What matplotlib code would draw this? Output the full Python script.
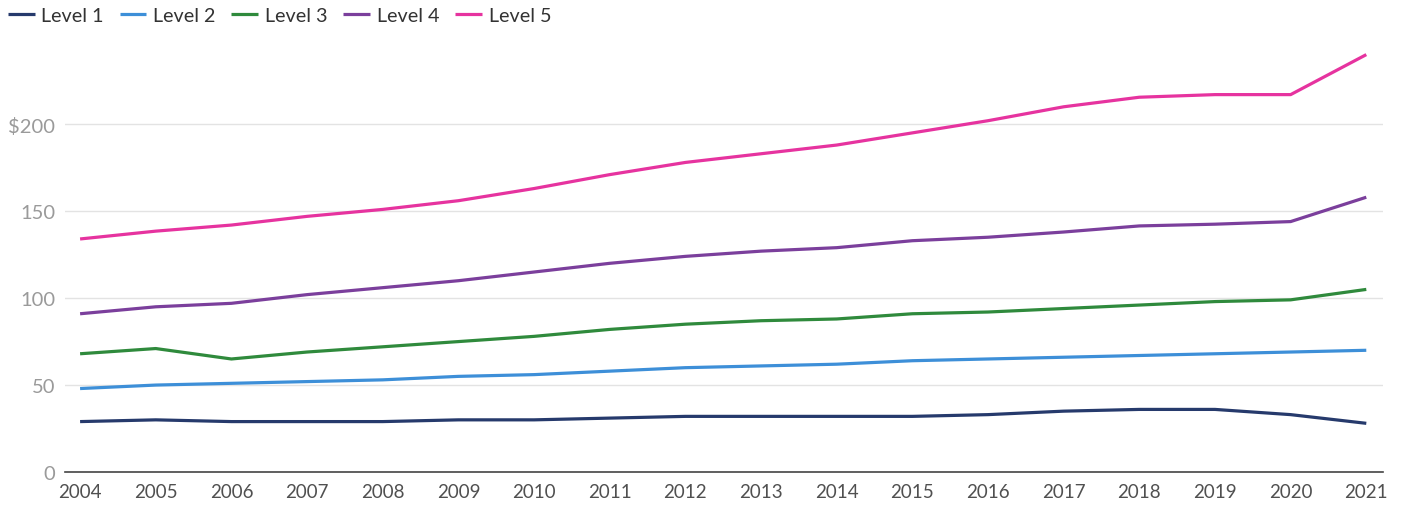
import matplotlib.pyplot as plt
from matplotlib.ticker import FuncFormatter

plt.rcParams['font.family'] = ['Lato', 'DejaVu Sans']

years = list(range(2004, 2022))
level1 = [29, 30, 29, 29, 29, 30, 30, 31, 32, 32, 32, 32, 33, 35, 36, 36, 33, 28]
level2 = [48, 50, 51, 52, 53, 55, 56, 58, 60, 61, 62, 64, 65, 66, 67, 68, 69, 70]
level3 = [68, 71, 65, 69, 72, 75, 78, 82, 85, 87, 88, 91, 92, 94, 96, 98, 99, 105]
level4 = [91, 95, 97, 102, 106, 110, 115, 120, 124, 127, 129, 133, 135, 138, 141.5, 142.5, 144, 158]
level5 = [134, 138.5, 142, 147, 151, 156, 163, 171, 178, 183, 188, 195, 202, 210, 215.5, 217, 217, 240]

series = [level1, level2, level3, level4, level5]
names = ['Level 1', 'Level 2', 'Level 3', 'Level 4', 'Level 5']
colors = ['#263a6c', '#3d8fd8', '#2f8a3c', '#7b3f9c', '#e6339f']

fig = plt.figure(figsize=(14.03, 5.10), dpi=100)
ax = fig.add_axes([0.0463, 0.0725, 0.9394, 0.8355])

for vals, name, c in zip(series, names, colors):
    ax.plot(years, vals, color=c, lw=2.3, label=name, solid_capstyle='butt')

ax.set_xlim(2003.8, 2021.22)
ax.set_ylim(0, 245)
ax.set_xticks(years)
ax.set_yticks([0, 50, 100, 150, 200])
ax.yaxis.set_major_formatter(FuncFormatter(lambda v, p: '$200' if v == 200 else f'{int(v)}'))
ax.grid(axis='y', color='#e3e3e3', lw=1)
ax.set_axisbelow(True)
for s in ['top', 'right', 'left']:
    ax.spines[s].set_visible(False)
ax.spines['bottom'].set_color('#444444')
ax.spines['bottom'].set_linewidth(1.2)
ax.tick_params(axis='both', length=0)
ax.tick_params(axis='y', labelsize=14.5, labelcolor='#9a9a9a', pad=7)
ax.tick_params(axis='x', labelsize=13.5, labelcolor='#505050', pad=8)

fig.legend(loc='upper left', bbox_to_anchor=(-0.007, 1.02), ncol=5, frameon=False,
           fontsize=14.2, handlelength=1.35, handletextpad=0.35, columnspacing=0.8,
           labelcolor='#333333')

fig.savefig('out.png', dpi=100)
